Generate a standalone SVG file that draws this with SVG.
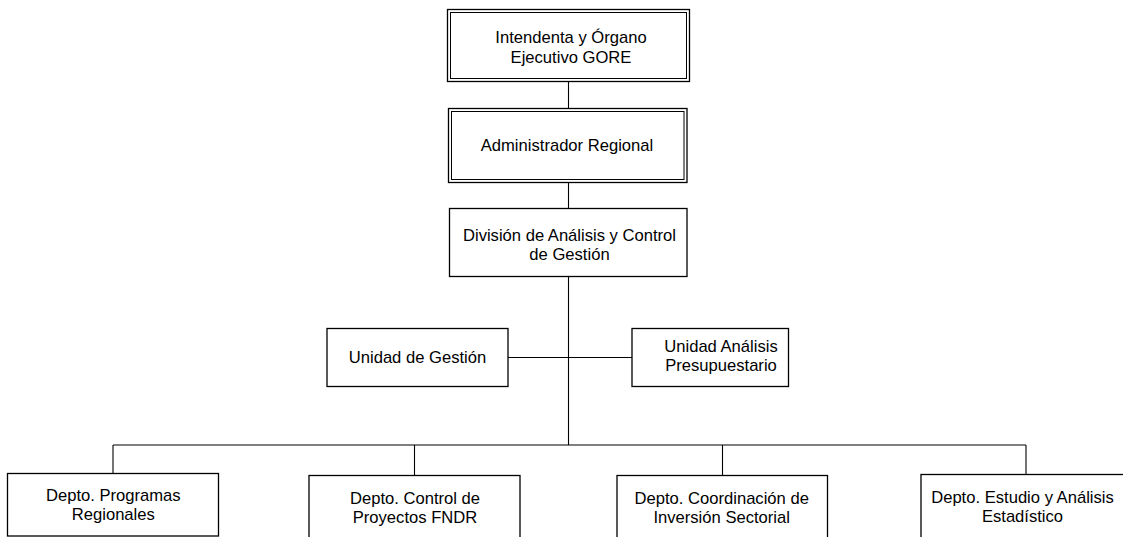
<svg xmlns="http://www.w3.org/2000/svg" width="1123" height="537" viewBox="0 0 1123 537">
  <style>
    .box { fill: #ffffff; stroke: #000000; stroke-width: 1.3; }
    .inner { fill: none; stroke: #000000; stroke-width: 1; }
    .lbl { font-family: "Liberation Sans", Arial, sans-serif; font-size: 16.6px; fill: #000000; text-anchor: middle; }
    .wire { fill: none; stroke: #000000; stroke-width: 1.1; }
  </style>
  <rect width="1123" height="537" fill="#ffffff"/>

  <!-- connectors -->
  <g id="connectors">
    <line class="wire" x1="568.5" y1="82" x2="568.5" y2="108"/>
    <line class="wire" x1="568.5" y1="183" x2="568.5" y2="208"/>
    <line class="wire" x1="568.5" y1="277" x2="568.5" y2="445"/>
    <line class="wire" x1="508" y1="357.5" x2="632" y2="357.5"/>
    <line class="wire" x1="113" y1="445" x2="1026" y2="445"/>
    <line class="wire" x1="113" y1="445" x2="113" y2="473.5"/>
    <line class="wire" x1="414.5" y1="445" x2="414.5" y2="475.5"/>
    <line class="wire" x1="722.5" y1="445" x2="722.5" y2="475.5"/>
    <line class="wire" x1="1026" y1="445" x2="1026" y2="475"/>
  </g>

  <!-- top level: double border -->
  <g id="intendenta">
    <rect class="box" x="447.5" y="9.5" width="242" height="72"/>
    <rect class="inner" x="450.5" y="12.5" width="236" height="66"/>
    <text class="lbl" x="571" y="43.3">Intendenta y Órgano</text>
    <text class="lbl" x="571" y="62.6">Ejecutivo GORE</text>
  </g>

  <g id="administrador">
    <rect class="box" x="448.5" y="108.5" width="238.5" height="74"/>
    <rect class="inner" x="451.5" y="111.5" width="232.5" height="68"/>
    <text class="lbl" x="567" y="151.4">Administrador Regional</text>
  </g>

  <g id="division">
    <rect class="box" x="449.5" y="208.5" width="237.5" height="68"/>
    <text class="lbl" x="569.5" y="240.7">División de Análisis y Control</text>
    <text class="lbl" x="569.5" y="259.5">de Gestión</text>
  </g>

  <g id="unidad-gestion">
    <rect class="box" x="327" y="328.5" width="181" height="58"/>
    <text class="lbl" x="417.5" y="363.4">Unidad de Gestión</text>
  </g>

  <g id="unidad-presupuesto">
    <rect class="box" x="632" y="328.5" width="156.5" height="58"/>
    <text class="lbl" x="721" y="351.6">Unidad Análisis</text>
    <text class="lbl" x="721" y="370.8">Presupuestario</text>
  </g>

  <g id="depto-programas">
    <rect class="box" x="7.5" y="473.5" width="211" height="62.5"/>
    <text class="lbl" x="113.3" y="500.8">Depto. Programas</text>
    <text class="lbl" x="113.3" y="519.6">Regionales</text>
  </g>

  <g id="depto-fndr">
    <rect class="box" x="309" y="475.5" width="211" height="70"/>
    <text class="lbl" x="415" y="503.8">Depto. Control de</text>
    <text class="lbl" x="415" y="522.8">Proyectos FNDR</text>
  </g>

  <g id="depto-inversion">
    <rect class="box" x="617" y="475.5" width="210.5" height="70"/>
    <text class="lbl" x="721.7" y="503.8">Depto. Coordinación de</text>
    <text class="lbl" x="721.7" y="522.8">Inversión Sectorial</text>
  </g>

  <g id="depto-estudio">
    <rect class="box" x="921" y="474.5" width="211" height="70"/>
    <text class="lbl" x="1022.5" y="503.4">Depto. Estudio y Análisis</text>
    <text class="lbl" x="1022.5" y="522.2">Estadístico</text>
  </g>
</svg>
